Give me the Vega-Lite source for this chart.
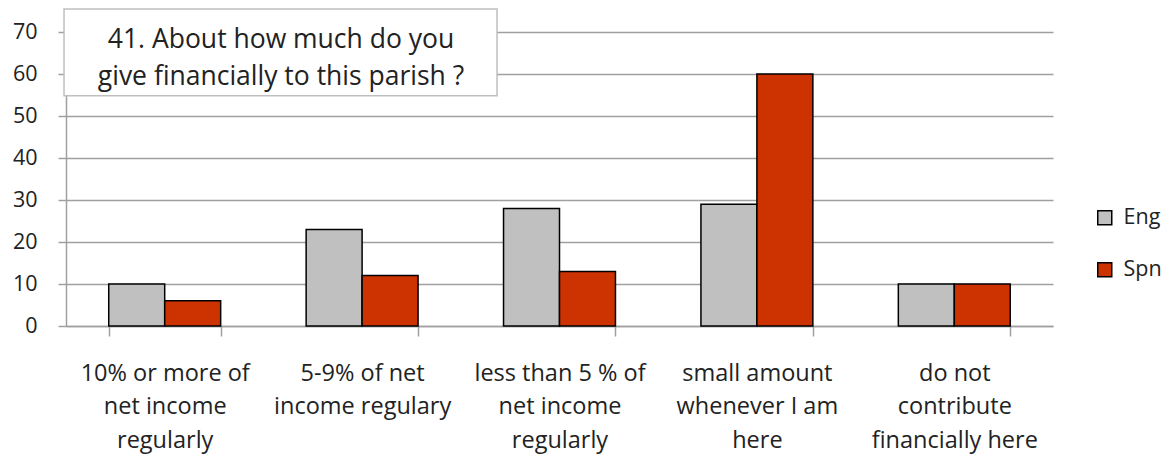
{
  "$schema": "https://vega.github.io/schema/vega-lite/v6.json",
  "width": 987,
  "height": 294,
  "autosize": {"type": "none"},
  "padding": {"left": 66, "top": 32, "right": 118, "bottom": 130},
  "background": "white",
  "config": {"view": {"stroke": null}, "font": "Open Sans"},
  "title": {
    "text": ["41. About how much do you", "give financially to this parish ?"],
    "frame": "group",
    "anchor": "start",
    "align": "center",
    "dx": 215,
    "orient": "top",
    "offset": 0,
    "baseline": "alphabetic",
    "dy": 103,
    "fontSize": 26.5,
    "fontWeight": "normal",
    "color": "#222222",
    "lineHeight": 37
  },
  "layer": [
    {
      "data": {
        "values": [
          {"answer": "10% or more of\nnet income\nregularly", "group": "Eng", "count": 10},
          {"answer": "10% or more of\nnet income\nregularly", "group": "Spn", "count": 6},
          {"answer": "5-9% of net\nincome regulary", "group": "Eng", "count": 23},
          {"answer": "5-9% of net\nincome regulary", "group": "Spn", "count": 12},
          {"answer": "less than  5 % of\nnet income\nregularly", "group": "Eng", "count": 28},
          {"answer": "less than  5 % of\nnet income\nregularly", "group": "Spn", "count": 13},
          {"answer": "small amount\nwhenever I am\nhere", "group": "Eng", "count": 29},
          {"answer": "small amount\nwhenever I am\nhere", "group": "Spn", "count": 60},
          {"answer": "do not\ncontribute\nfinancially here", "group": "Eng", "count": 10},
          {"answer": "do not\ncontribute\nfinancially here", "group": "Spn", "count": 10}
        ]
      },
      "mark": {"type": "bar", "stroke": "black", "strokeWidth": 1.5},
      "encoding": {
        "x": {
          "field": "answer",
          "type": "nominal",
          "sort": null,
          "scale": {"paddingInner": 0.433, "paddingOuter": 0.2165},
          "axis": {
            "title": null,
            "labelAngle": 0,
            "labelExpr": "split(datum.label, '\\n')",
            "labelFontSize": 23.5,
            "labelLineHeight": 33.5,
            "labelColor": "#222222",
            "labelPadding": 25,
            "labelBaseline": "top",
            "labelLimit": 0,
            "tickSize": 10,
            "tickColor": "#A0A0A0",
            "tickWidth": 1.5,
            "tickBand": "extent",
            "domainColor": "#A0A0A0",
            "domainWidth": 1.5,
            "grid": false
          }
        },
        "xOffset": {"field": "group", "type": "nominal", "sort": ["Eng", "Spn"]},
        "y": {
          "field": "count",
          "type": "quantitative",
          "scale": {"domain": [0, 70], "nice": false},
          "axis": {
            "title": null,
            "values": [0, 10, 20, 30, 40, 50, 60, 70],
            "grid": true,
            "gridColor": "#A0A0A0",
            "gridWidth": 1.5,
            "domainColor": "#A0A0A0",
            "domainWidth": 1.5,
            "tickColor": "#A0A0A0",
            "tickWidth": 1.5,
            "tickSize": 8,
            "labelPadding": 21,
            "labelFontSize": 21.5,
            "labelColor": "#222222"
          }
        },
        "color": {
          "field": "group",
          "type": "nominal",
          "scale": {"domain": ["Eng", "Spn"], "range": ["#C0C0C0", "#CC3300"]},
          "legend": {
            "title": null,
            "orient": "none",
            "legendX": 1028,
            "legendY": 175,
            "symbolType": "square",
            "symbolSize": 196,
            "symbolStrokeColor": "black",
            "symbolStrokeWidth": 1.5,
            "symbolOpacity": 1,
            "labelFontSize": 21.5,
            "labelColor": "#222222",
            "rowPadding": 29,
            "labelOffset": 8,
            "padding": 0
          }
        }
      }
    },
    {
      "data": {"values": [{}]},
      "mark": {"type": "rect", "fill": "white", "stroke": "#BFBFBF", "strokeWidth": 1.5},
      "encoding": {
        "x": {"datum": -0.002, "type": "quantitative", "scale": {"domain": [0, 1], "nice": false, "zero": false}, "axis": null},
        "x2": {"datum": 0.4367},
        "y": {"datum": 75.5, "type": "quantitative", "axis": {"title": null}},
        "y2": {"datum": 54.8}
      }
    }
  ],
  "resolve": {"scale": {"x": "independent"}}
}
